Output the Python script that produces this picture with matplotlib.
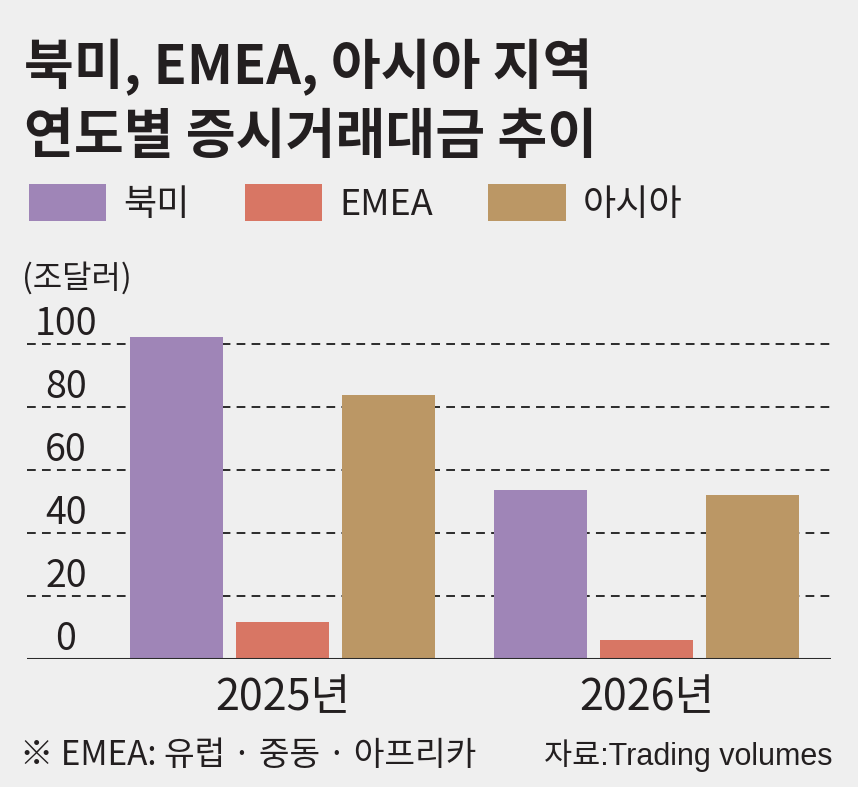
import matplotlib
matplotlib.use('Agg')
import matplotlib.pyplot as plt
import numpy as np

# data
years = ['2025년', '2026년']
regions = ['북미', 'EMEA', '아시아']
north_america = [102.3, 53.7]
emea = [11.6, 6.1]
asia = [83.8, 52.2]
y_ticks = [0, 20, 40, 60, 80, 100]

colors = ['#9f85b7', '#d87664', '#bb9765']
bg = '#efefef'
ink = '#231f20'
FAM = ['Liberation Sans Narrow', 'Noto Sans CJK KR']

W, H = 858, 787
fig = plt.figure(figsize=(W / 100, H / 100), dpi=100, facecolor=bg)

# axes placed in pixels: left 27, right 831, baseline 659, 100 line at 344
ax = fig.add_axes([27 / W, 1 - 659 / H, (831 - 27) / W, (659 - 328.25) / H])
ax.set_facecolor(bg)

x = np.arange(len(years))
step = 106 / 364.5
width = 93 / 364.5
series = [north_america, emea, asia]
for i, (vals, name) in enumerate(zip(series, regions)):
    ax.bar(x + (i - 1) * step, vals, width, color=colors[i], label=name, zorder=3)

ax.set_xlim(-0.701, 1.505)
ax.set_ylim(0, 105)

# dashed grid lines, solid baseline
for v in y_ticks[1:]:
    ax.axhline(v, color='#2b2b2b', lw=1.4, ls=(0, (4.5, 3.2)), zorder=1)
ax.axhline(0, color='#2b2b2b', lw=2.2, zorder=4)

for s in ax.spines.values():
    s.set_visible(False)
ax.set_yticks([])
ax.set_xticks(x)
ax.set_xticklabels(years, family=FAM, fontsize=31, color=ink)
ax.tick_params(axis='x', length=0, pad=12)

# tick values sit above their grid lines
for v in y_ticks:
    ax.annotate(str(v), xy=(0.0485, v), xycoords=('axes fraction', 'data'),
                xytext=(0, 6.5), textcoords='offset points',
                ha='center', va='baseline', family=FAM, fontsize=27, color=ink)

fig.text(22 / W, 1 - 288 / H, '(조달러)', family=FAM, fontsize=23,
         color=ink, va='baseline')

# title
fig.text(24 / W, 1 - 84 / H, '북미, EMEA, 아시아 지역', family=FAM,
         fontsize=39, weight='bold', color=ink, va='baseline')
fig.text(24 / W, 1 - 153 / H, '연도별 증시거래대금 추이', family=FAM,
         fontsize=39, weight='bold', color=ink, va='baseline')

# legend
leg = ax.legend(loc='center left', bbox_to_anchor=(29 / W, 1 - 203.5 / H),
                bbox_transform=fig.transFigure, ncol=3, frameon=False,
                prop={'family': FAM, 'size': 26}, handlelength=2.14,
                handleheight=1.19, handletextpad=0.47, columnspacing=1.53,
                borderpad=0, borderaxespad=0)
for t in leg.get_texts():
    t.set_color(ink)

# footer
fig.text(20 / W, 1 - 765 / H, '※ EMEA: 유럽 · 중동 · 아프리카', family=FAM,
         fontsize=24, color=ink, va='baseline')
fig.text(833 / W, 1 - 765 / H, '자료:Trading volumes',
         family=['Liberation Sans', 'Noto Sans CJK KR'], fontsize=22,
         color=ink, va='baseline', ha='right')

plt.savefig('out.png', dpi=100, facecolor=bg)
plt.close()
